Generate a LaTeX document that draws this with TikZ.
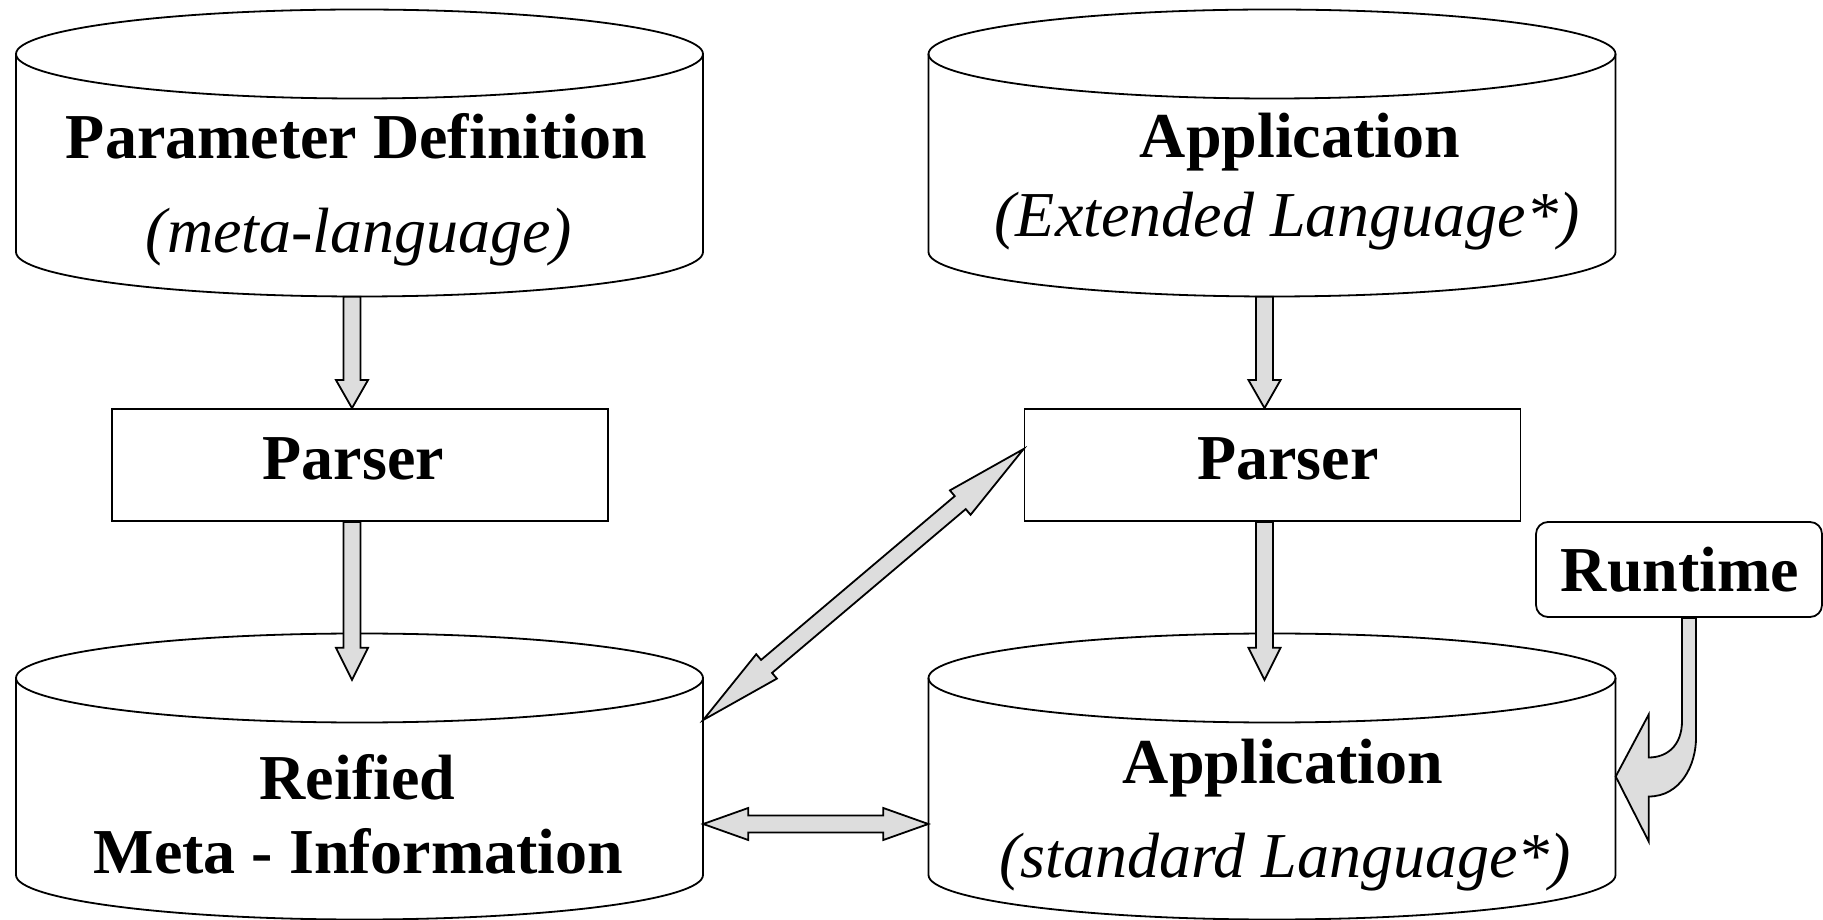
\documentclass[tikz,border=0pt]{standalone}
\usepackage{fontspec}
\setmainfont{Liberation Serif}
\usetikzlibrary{calc}

\definecolor{arrowgrey}{RGB}{221,221,221}

\tikzset{
  outline/.style={draw=black, line width=1.8pt},
  blockarrow/.style={fill=arrowgrey, draw=black, line width=1.8pt, line join=miter},
  boldlabel/.style={font=\fontsize{64}{70}\selectfont\bfseries, inner sep=0pt, anchor=base},
  itlabel/.style={font=\fontsize{64}{70}\selectfont\itshape, inner sep=0pt, anchor=base},
  parserbox/.style={outline, minimum width=496pt, minimum height=112pt, inner sep=0pt},
  runtimebox/.style={outline, rounded corners=12pt, minimum width=286pt, minimum height=95pt, inner sep=0pt},
}

% storage drum: name, centre x, top ellipse centre y, bottom ellipse centre y
\newcommand{\drum}[4]{%
  \draw[outline] ({#2-343.5},#3) -- ({#2-343.5},#4)
     arc[start angle=180, end angle=360, x radius=343.5pt, y radius=44.5pt]
     -- ({#2+343.5},#3);
  \draw[outline] (#2,#3) ellipse[x radius=343.5pt, y radius=44.5pt];
  \node[inner sep=0pt, minimum width=687pt, minimum height={#3-#4+89}] (#1) at (#2,{(#3+#4)/2}) {};
}

% filled block arrow: from, to, head length
\newcommand{\arrowsingle}[3]{%
  \coordinate (bas) at (#1);
  \coordinate (bae) at (#2);
  \coordinate (bah) at ($(bae)!#3!(bas)$);
  \filldraw[blockarrow] ($(bas)!8.5pt!90:(bae)$) -- ($(bah)!8.5pt!90:(bae)$)
     -- ($(bah)!16pt!90:(bae)$) -- (bae) -- ($(bah)!16pt!-90:(bae)$)
     -- ($(bah)!8.5pt!-90:(bae)$) -- ($(bas)!8.5pt!-90:(bae)$) -- cycle;
}

% filled block arrow with a head at both ends: from, to, head length
\newcommand{\arrowdouble}[3]{%
  \coordinate (bas) at (#1);
  \coordinate (bae) at (#2);
  \coordinate (bhs) at ($(bas)!#3!(bae)$);
  \coordinate (bhe) at ($(bae)!#3!(bas)$);
  \filldraw[blockarrow] (bas) -- ($(bhs)!16pt!90:(bae)$) -- ($(bhs)!8.5pt!90:(bae)$)
     -- ($(bhe)!8.5pt!90:(bae)$) -- ($(bhe)!16pt!90:(bae)$) -- (bae)
     -- ($(bhe)!16pt!-90:(bae)$) -- ($(bhe)!8.5pt!-90:(bae)$)
     -- ($(bhs)!8.5pt!-90:(bae)$) -- ($(bhs)!16pt!-90:(bae)$) -- cycle;
}

\begin{document}
\begin{tikzpicture}[x=1pt, y=1pt]
  \fill[white] (0,0) rectangle (1823,919);
  \useasboundingbox (0,0) rectangle (1823,919);

  % drums
  \drum{pd}{359.5}{865}{667}
  \drum{ax}{1272}{865}{667}
  \drum{rm}{359.5}{241}{44}
  \drum{as}{1272}{241}{44}

  % boxes
  \node[parserbox] (p1) at (360,454) {};
  \node[parserbox] (p2) at (1272.5,454) {};
  \node[runtimebox] (rt) at (1679,349.5) {};

  % labels
  \node[boldlabel] (pdt1) at (356.5,760) {Parameter Definition};
  \node[itlabel]   (pdt2) at (359,666) {(meta-language)};
  \node[boldlabel] (axt1) at (1300,761) {Application};
  \node[itlabel]   (axt2) at (1287,682) {(Extended Language*)};
  \node[boldlabel] (p1t)  at (353.5,439) {Parser};
  \node[boldlabel] (p2t)  at (1288,439) {Parser};
  \node[boldlabel] (rtt)  at (1680,327) {Runtime};
  \node[boldlabel] (ast1) at (1283,136) {Application};
  \node[itlabel]   (ast2) at (1285,42) {(standard Language*)};
  \node[boldlabel] (rmt1) at (357.5,120) {Reified};
  \node[boldlabel] (rmt2) at (358.5,46) {Meta - Information};

  % downward flow
  \arrowsingle{[xshift=-7.5pt]pd.south}{[xshift=-8pt]p1.north}{28pt}
  \arrowsingle{[xshift=-8pt]p1.south}{[xshift=-7.5pt,yshift=-46.5pt]rm.north}{32pt}
  \arrowsingle{[xshift=-7.5pt]ax.south}{[xshift=-8pt]p2.north}{28pt}
  \arrowsingle{[xshift=-8pt]p2.south}{[xshift=-7.5pt,yshift=-46.5pt]as.north}{32pt}

  % exchanges with the meta-information
  \arrowdouble{[yshift=56.5pt]rm.east}{[yshift=16pt]p2.west}{83pt}
  \arrowdouble{[yshift=-47.5pt]rm.east}{[yshift=-47.5pt]as.west}{45pt}

  % runtime feeding the application
  \coordinate (rtfoot) at ([xshift=10pt]rt.south);
  \coordinate (astip) at (as.east);
  \filldraw[blockarrow]
    ($(rtfoot)+(-7,0)$) -- ($(rtfoot)+(-7,-103)$)
    .. controls ($(rtfoot)+(-7,-128)$) and ($(astip)+(51,19)$) .. ($(astip)+(33,19)$)
    -- ($(astip)+(33,62)$) -- (astip) -- ($(astip)+(33,-65)$) -- ($(astip)+(33,-20)$)
    .. controls ($(astip)+(65,-20)$) and ($(rtfoot)+(7,-147)$) .. ($(rtfoot)+(7,-120)$)
    -- ($(rtfoot)+(7,0)$) -- cycle;
\end{tikzpicture}
\end{document}
